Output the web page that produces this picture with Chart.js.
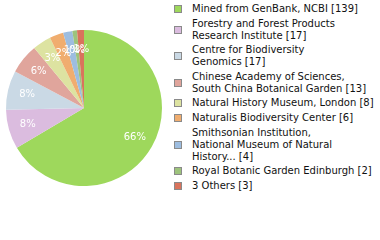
<!DOCTYPE html>
<html>
<head>
<meta charset="utf-8">
<script src="https://cdn.jsdelivr.net/npm/chart.js@4/dist/chart.umd.min.js"></script>
<style>
  html, body { margin: 0; padding: 0; background: #fff; }
  body { width: 380px; height: 240px; position: relative; overflow: hidden;
         font-family: "DejaVu Sans", sans-serif; }
  #pieBox { position: absolute; left: 0; top: 0; width: 168px; height: 216px; }
  #legend { position: absolute; left: 174px; top: 3px; width: 206px;
            font-size: 10px; line-height: 12px; color: #111; }
  .item { display: flex; align-items: center; margin-bottom: 2.6px; }
  .swatch { flex: none; width: 6px; height: 6px; border: 1px solid #8a8a8a; margin-right: 10px; }
  .label { white-space: nowrap; }
</style>
</head>
<body>
<div id="pieBox"><canvas id="pie"></canvas></div>
<div id="legend"></div>
<script>
// Specimen sources and their record counts
const categories = [
  "Mined from GenBank, NCBI",
  "Forestry and Forest Products Research Institute",
  "Centre for Biodiversity Genomics",
  "Chinese Academy of Sciences, South China Botanical Garden",
  "Natural History Museum, London",
  "Naturalis Biodiversity Center",
  "Smithsonian Institution, National Museum of Natural History...",
  "Royal Botanic Garden Edinburgh",
  "3 Others"
];
const counts = [139, 17, 17, 13, 8, 6, 4, 2, 3];
const colors = [
  "#9ed85c", "#dbbcdf", "#cad9e5", "#e0a59c", "#dde3a1",
  "#f0ad6f", "#9dbde0", "#9dc37c", "#d9735c"
];

const total = counts.reduce((a, b) => a + b, 0);

// Word-wrap a source name to lines of at most `max` characters
function wrapName(name, max) {
  const lines = [];
  let cur = "";
  name.split(" ").forEach(w => {
    if (cur && (cur + " " + w).length > max) { lines.push(cur); cur = w; }
    else cur = cur ? cur + " " + w : w;
  });
  if (cur) lines.push(cur);
  return lines;
}

// Percent text drawn inside each slice, three quarters of the way out
const sliceLabels = {
  id: "sliceLabels",
  afterDatasetsDraw(chart) {
    const ctx = chart.ctx;
    const meta = chart.getDatasetMeta(0);
    ctx.save();
    ctx.font = "10px 'DejaVu Sans', sans-serif";
    ctx.fillStyle = "#ffffff";
    ctx.textAlign = "center";
    ctx.textBaseline = "middle";
    meta.data.forEach((arc, i) => {
      const p = arc.getProps(["x", "y", "startAngle", "endAngle", "outerRadius"], true);
      const mid = (p.startAngle + p.endAngle) / 2;
      const r = p.outerRadius * 0.75;
      const pct = Math.floor(counts[i] / total * 100);
      ctx.fillText(pct + "%", p.x + Math.cos(mid) * r, p.y + Math.sin(mid) * r);
    });
    ctx.restore();
  }
};

new Chart(document.getElementById("pie"), {
  type: "pie",
  data: {
    labels: categories,
    datasets: [{
      data: counts,
      backgroundColor: colors,
      borderWidth: 0
    }]
  },
  options: {
    responsive: true,
    maintainAspectRatio: false,
    animation: false,
    layout: { padding: 6 },
    plugins: { legend: { display: false }, tooltip: { enabled: false } }
  },
  plugins: [sliceLabels]
});

// Legend list beside the pie
const legend = document.getElementById("legend");
categories.forEach((name, i) => {
  const item = document.createElement("div");
  item.className = "item";
  const sw = document.createElement("span");
  sw.className = "swatch";
  sw.style.background = colors[i];
  const lab = document.createElement("span");
  lab.className = "label";
  const lines = wrapName(name, 30);
  lines[lines.length - 1] += " [" + counts[i] + "]";
  lines.forEach((ln, k) => {
    if (k) lab.appendChild(document.createElement("br"));
    lab.appendChild(document.createTextNode(ln));
  });
  item.appendChild(sw);
  item.appendChild(lab);
  legend.appendChild(item);
});
</script>
</body>
</html>
